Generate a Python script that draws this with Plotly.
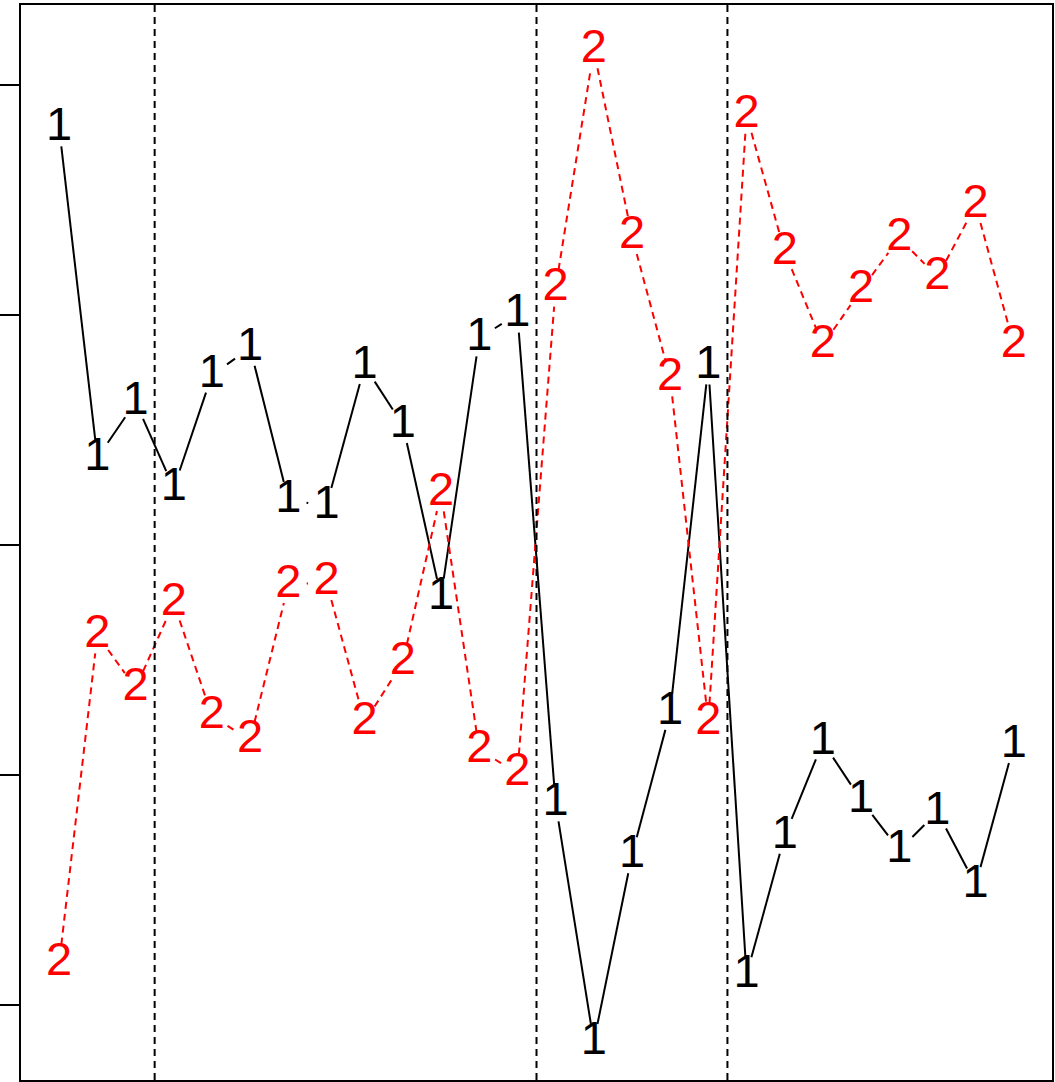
import plotly.graph_objects as go
import math

x_idx = list(range(1, 27))
series1 = [1.813, 0.378, 0.622, 0.248, 0.739, 0.857, 0.196, 0.170, 0.778, 0.522,
           -0.226, 0.900, 1.004, -1.122, -2.161, -1.348, -0.726, 0.778, -1.870, -1.265,
           -0.857, -1.109, -1.326, -1.161, -1.478, -0.870]
series2 = [-1.817, -0.391, -0.622, -0.252, -0.743, -0.848, -0.174, -0.161, -0.770, -0.509,
           0.226, -0.891, -0.991, 1.117, 2.152, 1.343, 0.726, -0.770, 1.870, 1.274,
           0.870, 1.109, 1.335, 1.165, 1.478, 0.870]
vlines = [3.5, 13.5, 18.5]
y_ticks = [-2, -1, 0, 1, 2]

W, H = 1055, 1082
ML, MR, MT, MB = 21, 1, 5, 2
xr = [0, 27]
yr = [-2.326, 2.348]
pw = W - ML - MR
ph = H - MT - MB
sx = pw / (xr[1] - xr[0])
sy = ph / (yr[1] - yr[0])
GAP = 18.5


def gapped(xs, ys):
    ox, oy = [], []
    for i in range(len(xs) - 1):
        dx = (xs[i + 1] - xs[i]) * sx
        dy = (ys[i + 1] - ys[i]) * sy
        L = math.hypot(dx, dy)
        if L <= 2 * GAP:
            continue
        f = GAP / L
        ax = xs[i] + (xs[i + 1] - xs[i]) * f
        ay = ys[i] + (ys[i + 1] - ys[i]) * f
        bx = xs[i + 1] - (xs[i + 1] - xs[i]) * f
        by = ys[i + 1] - (ys[i + 1] - ys[i]) * f
        ox += [ax, bx, None]
        oy += [ay, by, None]
    return ox, oy


fig = go.Figure()
for ys, col, dash, lab in [(series1, "black", "solid", "1"), (series2, "#ff0000", "7px,5px", "2")]:
    gx, gy = gapped(x_idx, ys)
    fig.add_trace(go.Scatter(x=gx, y=gy, mode="lines",
                             line=dict(color=col, width=2, dash=dash),
                             hoverinfo="skip", showlegend=False))
    fig.add_trace(go.Scatter(x=x_idx, y=ys, mode="text", text=[lab] * len(ys),
                             textposition="middle center",
                             textfont=dict(family="Liberation Sans", size=47, color=col),
                             showlegend=False))

for v in vlines:
    fig.add_shape(type="line", x0=v, x1=v, y0=0, y1=1, xref="x", yref="paper",
                  line=dict(color="black", width=2, dash="7px,5px"))

fig.update_layout(
    width=W, height=H,
    margin=dict(l=ML, r=MR, t=MT, b=MB),
    paper_bgcolor="white", plot_bgcolor="white",
    xaxis=dict(range=xr, showgrid=False, zeroline=False, showticklabels=False,
               ticks="", showline=True, linecolor="black", linewidth=2, mirror=True),
    yaxis=dict(range=yr, showgrid=False, zeroline=False, showticklabels=False,
               tickvals=y_ticks, ticks="outside", ticklen=20, tickwidth=1.5, tickcolor="black",
               showline=True, linecolor="black", linewidth=2, mirror=True),
)
fig.write_html("out.html", config={"displayModeBar": False},
               post_script="document.body.style.margin='0';document.body.style.overflow='hidden';")
